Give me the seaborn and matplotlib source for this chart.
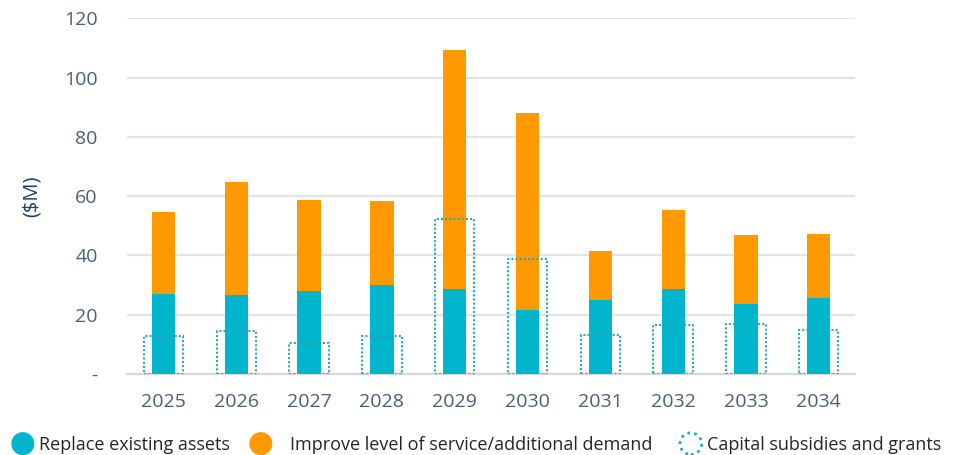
import matplotlib
matplotlib.use("Agg")
import matplotlib.pyplot as plt
import matplotlib.patches as mpatches
from matplotlib.legend_handler import HandlerPatch
import seaborn as sns
import pandas as pd

years = ["2025", "2026", "2027", "2028", "2029", "2030", "2031", "2032", "2033", "2034"]
replace_assets = [27, 26.7, 28, 30, 28.6, 21.5, 25, 28.6, 23.7, 25.5]
improve_service = [27.7, 38.1, 30.6, 28.3, 80.6, 66.5, 16.5, 26.7, 23.3, 21.7]
subsidies = [12.9, 14.5, 10.3, 12.8, 52.4, 38.8, 13.1, 16.5, 16.9, 14.8]
yticks = [0, 20, 40, 60, 80, 100, 120]
ytick_labels = ["-", "20", "40", "60", "80", "100", "120"]

TEAL = "#00B5CC"
ORANGE = "#FF9900"
DOT = "#2AAAB8"
TICK = "#4A5E78"

df = pd.DataFrame({
    "year": years,
    "replace": replace_assets,
    "improve": improve_service,
    "total": [a + b for a, b in zip(replace_assets, improve_service)],
    "subsidy": subsidies,
})

sns.set_theme(style="white")
plt.rcParams["font.family"] = ["Open Sans", "DejaVu Sans"]

fig = plt.figure(figsize=(9.62, 4.55), dpi=100)
ax = fig.add_axes([0.132, 0.178, 0.757, 0.782])

sns.barplot(data=df, x="year", y="total", color=ORANGE, width=0.32,
            saturation=1, ax=ax, zorder=2, linewidth=0)
sns.barplot(data=df, x="year", y="replace", color=TEAL, width=0.32,
            saturation=1, ax=ax, zorder=3, linewidth=0)
sns.barplot(data=df, x="year", y="subsidy", fill=False, width=0.54,
            ax=ax, zorder=4, edgecolor=DOT, linewidth=1.5, linestyle=(0, (1, 1)))

ax.set_xlim(-0.5, 9.5)
ax.set_ylim(0, 120)
ax.set_yticks(yticks)
ax.set_yticklabels(ytick_labels)
ax.yaxis.grid(True, color="#E3E3E3", linewidth=1.6, zorder=0)
ax.set_axisbelow(True)
for s in ["top", "right", "left"]:
    ax.spines[s].set_visible(False)
ax.spines["bottom"].set_color("#D9D9D9")
ax.spines["bottom"].set_linewidth(1.6)
ax.tick_params(axis="both", length=0, labelsize=14, colors=TICK)
ax.tick_params(axis="y", pad=21)
ax.tick_params(axis="x", pad=14)
ax.set_xlabel("")
ax.set_ylabel("($M)", fontsize=14.5, color="#1F3F66", labelpad=16)


class HandlerCircle(HandlerPatch):
    def create_artists(self, legend, orig_handle, xdescent, ydescent, width,
                       height, fontsize, trans):
        r = 0.6 * fontsize
        c = mpatches.Circle((width / 2 - xdescent, height / 2 - ydescent), r)
        self.update_prop(c, orig_handle, legend)
        c.set_transform(trans)
        return [c]


h1 = mpatches.Circle((0, 0), 1, facecolor=TEAL, edgecolor=TEAL)
h2 = mpatches.Circle((0, 0), 1, facecolor=ORANGE, edgecolor=ORANGE)
h3 = mpatches.Circle((0, 0), 1, facecolor="none", edgecolor=DOT,
                     linewidth=2, linestyle=(0, (1, 1.5)))

common = dict(frameon=False, fontsize=13, handlelength=1.2, handletextpad=0.28,
              borderpad=0, borderaxespad=0, loc="center left",
              handler_map={mpatches.Circle: HandlerCircle()})
ly = 1 - 445 / 455
fig.legend([h1], ["Replace existing assets"], bbox_to_anchor=(12 / 962, ly), **common)
c2 = dict(common); c2["handletextpad"] = 1.0
fig.legend([h2], ["Improve level of service/additional demand"], bbox_to_anchor=(250 / 962, ly), **c2)
fig.legend([h3], ["Capital subsidies and grants"], bbox_to_anchor=(680 / 962, ly), **common)

fig.savefig("out.png", dpi=100)
